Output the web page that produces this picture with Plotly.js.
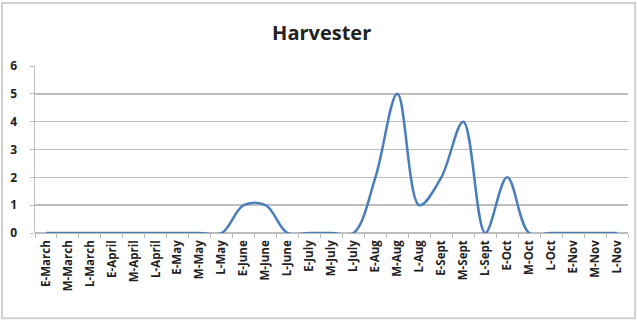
<!DOCTYPE html>
<html>
<head>
<meta charset="utf-8">
<script src="https://cdn.plot.ly/plotly-3.0.1.min.js"></script>
<style>
html,body{margin:0;padding:0;background:#fff;}
#chart{width:637px;height:325px;}
</style>
</head>
<body>
<div id="chart"></div>
<script>
const categories = ["E-March","M-March","L-March","E-April","M-April","L-April","E-May","M-May","L-May","E-June","M-June","L-June","E-July","M-July","L-July","E-Aug","M-Aug","L-Aug","E-Sept","M-Sept","L-Sept","E-Oct","M-Oct","L-Oct","E-Nov","M-Nov","L-Nov"];
const harvester = [0,0,0,0,0,0,0,0,0,1,1,0,0,0,0,2,5,1,2,4,0,2,0,0,0,0,0];
const yTicks = [0,1,2,3,4,5,6];

const trace = {
  x: categories,
  y: harvester,
  type: 'scatter',
  mode: 'lines',
  line: {color: '#4a7ebb', width: 2.5, shape: 'spline', smoothing: 1},
  hoverinfo: 'x+y'
};

const layout = {
  width: 637, height: 325,
  margin: {l: 35, r: 9, t: 66, b: 92},
  paper_bgcolor: '#ffffff',
  plot_bgcolor: '#ffffff',
  showlegend: false,
  title: {text: '<b>Harvester</b>', x: 0.505, xanchor: 'center', y: 0.9, yanchor: 'middle',
          font: {family: 'Open Sans, sans-serif', size: 20, color: '#222'}},
  xaxis: {
    type: 'category',
    range: [-0.5, 26.5],
    showgrid: false,
    showline: false,
    zeroline: false,
    ticks: 'outside', ticklen: 4, tickcolor: '#bbb', tickson: 'boundaries',
    tickangle: -90,
    ticklabelstandoff: 4,
    tickfont: {family: 'Open Sans, sans-serif', size: 11.5, color: '#222', weight: 'bold'},
    fixedrange: true
  },
  yaxis: {
    range: [0, 6],
    tickvals: yTicks,
    ticktext: yTicks.map(String),
    showgrid: true, gridcolor: '#bdbdbd', gridwidth: 1.5,
    showline: true, linecolor: '#bdbdbd', linewidth: 1.5,
    zeroline: true, zerolinecolor: '#bdbdbd', zerolinewidth: 1.5,
    ticks: 'outside', ticklen: 4, tickcolor: '#bdbdbd',
    ticklabelstandoff: 10,
    tickfont: {family: 'Open Sans, sans-serif', size: 12, color: '#222', weight: 'bold'},
    fixedrange: true
  },
  shapes: [{
    type: 'rect', xref: 'paper', yref: 'paper',
    x0: -0.0556, x1: 1.012, y0: -0.51, y1: 1.377,
    line: {color: '#d0d0d0', width: 2}
  }]
};

Plotly.newPlot('chart', [trace], layout, {displayModeBar: false, staticPlot: true});
</script>
</body>
</html>
